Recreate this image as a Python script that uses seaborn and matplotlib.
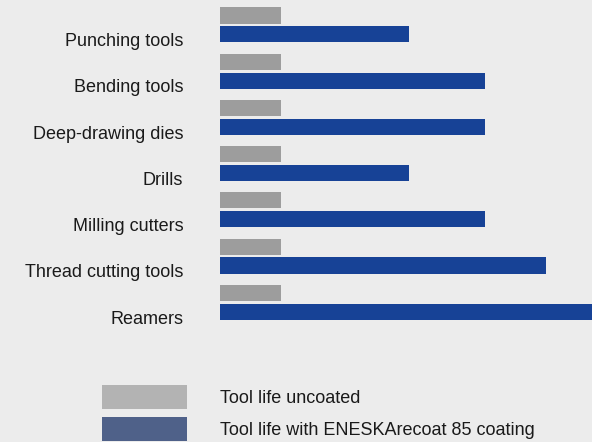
import pandas as pd
import seaborn as sns
import matplotlib.pyplot as plt
from matplotlib.patches import Patch

# tool life relative to uncoated (uncoated = 1)
tools = ["Punching tools", "Bending tools", "Deep-drawing dies", "Drills",
         "Milling cutters", "Thread cutting tools", "Reamers"]
uncoated = [1.0, 1.0, 1.0, 1.0, 1.0, 1.0, 1.0]
coated = [3.1, 4.35, 4.35, 3.1, 4.35, 5.35, 6.1]
series = ["Tool life uncoated", "Tool life with ENESKArecoat 85 coating"]

df = pd.DataFrame({
    "tool": tools * 2,
    "life": uncoated + coated,
    "series": [series[0]] * len(tools) + [series[1]] * len(tools),
})

bg = "#ececec"
sns.set_style("white")
plt.rcParams["font.family"] = ["Liberation Sans", "DejaVu Sans"]

fig = plt.figure(figsize=(5.92, 4.42), dpi=100, facecolor=bg)
ax = fig.add_axes([220 / 592, 1 - 330 / 442, 372 / 592, 330 / 442], facecolor=bg)

sns.barplot(data=df, y="tool", x="life", hue="series", order=tools,
            hue_order=series, palette=["#9d9d9d", "#174296"], orient="h",
            width=0.82, gap=0.15, saturation=1, linewidth=0, legend=False, ax=ax)

ax.set_xlim(0, 6.1)
ax.set_ylim(6.6, -0.54)
ax.set_xlabel("")
ax.set_ylabel("")
ax.set_xticks([])
ax.set_yticks([i + 0.32 for i in range(len(tools))])
ax.set_yticklabels(tools, fontsize=13, color="#1a1a1a")
ax.tick_params(axis="y", length=0, pad=26.5)
for s in ax.spines.values():
    s.set_visible(False)

handles = [Patch(facecolor="#b3b3b3", linewidth=0), Patch(facecolor="#4f6189", linewidth=0)]
fig.legend(handles, series, loc="upper left", bbox_to_anchor=(102 / 592, 1 - 385 / 442),
           frameon=False, fontsize=13, labelcolor="#1a1a1a", handlelength=4.7,
           handleheight=1.65, handletextpad=1.83, labelspacing=0.45, borderpad=0,
           borderaxespad=0)

fig.savefig("out.png", dpi=100, facecolor=bg)
